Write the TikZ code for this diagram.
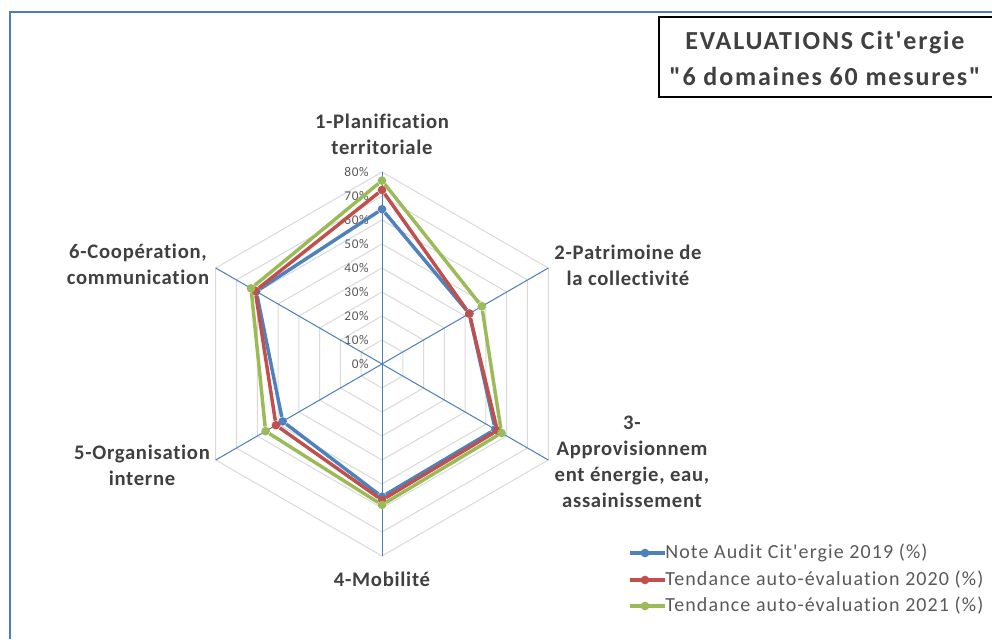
\documentclass[tikz,border=0pt]{standalone}
\usepackage{fontspec}
\setmainfont{Carlito}[Ligatures={TeXOff,CommonOff}]
\newfontfamily\etiquette{Carlito}[Ligatures={TeXOff,CommonOff}, LetterSpace=3.5]
\newfontfamily\titrefont{Carlito}[Ligatures={TeXOff,CommonOff}, LetterSpace=7]
\newfontfamily\legfont{Carlito}[Ligatures={TeXOff,CommonOff}, LetterSpace=5.5]
\newfontfamily\gradfont{Carlito}[Ligatures={TeXOff,CommonOff}, LetterSpace=5]
\definecolor{serieA}{HTML}{4F81BD}
\definecolor{serieB}{HTML}{C0504D}
\definecolor{serieC}{HTML}{9BBB59}
\definecolor{axe}{HTML}{4A7EBB}
\definecolor{grille}{HTML}{D9D9D9}
\definecolor{texte}{HTML}{404040}
\definecolor{legende}{HTML}{595959}
\tikzset{
  point/.style={circle, inner sep=0pt, minimum size=6.5pt},
  serie/.style={line width=2.6pt, line join=round},
  domaine/.style={align=center, text=texte, font=\etiquette\fontsize{15.5}{19.5}\selectfont\bfseries},
  graduation/.style={anchor=east, text=legende, font=\gradfont\fontsize{10}{10}\selectfont, inner sep=0pt}
}
\begin{document}
\begin{tikzpicture}[x=0.75pt,y=0.75pt]
  \useasboundingbox (-382,-275) rectangle (610,364);

  % cadre du graphique
  \draw[axe, line width=1.5pt] (-372,-275) -- (-372,352) -- (610,352);

  % grille et axes
  \foreach \k in {1,...,8}
    \draw[grille, line width=0.75pt] (90:\k*24) -- (30:\k*24) -- (-30:\k*24)
      -- (-90:\k*24) -- (-150:\k*24) -- (150:\k*24) -- cycle;
  \foreach \a in {90,30,-30,-90,-150,150}
    \draw[axe, line width=0.75pt] (0,0) -- (\a:192);
  \foreach \k in {0,...,8}{
    \pgfmathtruncatemacro\p{\k*10}
    \node[graduation] (t\k) at (-13,\k*24) {\p\%};
  }

  % Note Audit 2019
  \begin{scope}[every node/.style={point, fill=serieA}]
    \node (b1) at (90:64.5*2.4)   {};
    \node (b2) at (30:42*2.4)     {};
    \node (b3) at (-30:54.5*2.4)  {};
    \node (b4) at (-90:55.3*2.4)  {};
    \node (b5) at (-150:47.8*2.4) {};
    \node (b6) at (150:60.5*2.4)  {};
  \end{scope}
  \draw[serie, serieA] (b1) -- (b2) -- (b3) -- (b4) -- (b5) -- (b6) -- (b1);

  % auto-evaluation 2020
  \begin{scope}[every node/.style={point, fill=serieB}]
    \node (r1) at (90:72.5*2.4)   {};
    \node (r2) at (30:42*2.4)     {};
    \node (r3) at (-30:55.5*2.4)  {};
    \node (r4) at (-90:56.7*2.4)  {};
    \node (r5) at (-150:51*2.4)   {};
    \node (r6) at (150:61*2.4)    {};
  \end{scope}
  \draw[serie, serieB] (r1) -- (r2) -- (r3) -- (r4) -- (r5) -- (r6) -- (r1);

  % auto-evaluation 2021
  \begin{scope}[every node/.style={point, fill=serieC}]
    \node (g1) at (90:76.4*2.4)   {};
    \node (g2) at (30:48*2.4)     {};
    \node (g3) at (-30:57.5*2.4)  {};
    \node (g4) at (-90:58.7*2.4)  {};
    \node (g5) at (-150:56*2.4)   {};
    \node (g6) at (150:63*2.4)    {};
  \end{scope}
  \draw[serie, serieC] (g1) -- (g2) -- (g3) -- (g4) -- (g5) -- (g6) -- (g1);

  % domaines
  \begin{scope}[every node/.style={domaine}]
    \node (d1) at (0,229.5)    {1-Planification\\territoriale};
    \node (d2) at (246,99)     {2-Patrimoine de\\la collectivité};
    \node (d3) at (250,-98)    {3-\\Approvisionnem\\ent énergie, eau,\\assainissement};
    \node (d4) at (0,-215)     {4-Mobilité};
    \node (d5) at (-240,-101)  {5-Organisation\\interne};
    \node (d6) at (-244,100)   {6-Coopération,\\communication};
  \end{scope}

  % titre
  \draw[black, line width=1pt] (277,347) rectangle (620,267);
  \node[align=center, text=texte, font=\titrefont\fontsize{19.5}{27}\selectfont\bfseries]
    (titre) at (443,306) {EVALUATIONS Cit'ergie\\"6 domaines 60 mesures"};

  % legende
  \begin{scope}[every node/.style={anchor=west, inner sep=0pt, text=legende, font=\legfont\fontsize{15}{15}\selectfont}]
    \node (l1) at (283,-189) {Note Audit Cit'ergie 2019 (\%)};
    \node (l2) at (283,-216) {Tendance auto-évaluation 2020 (\%)};
    \node (l3) at (283,-242) {Tendance auto-évaluation 2021 (\%)};
  \end{scope}
  \coordinate (m1) at (248,-189);
  \coordinate (m2) at (248,-216);
  \coordinate (m3) at (248,-242);
  \draw[serieA, line width=2.6pt] (m1) -- (l1.west);
  \draw[serieB, line width=2.6pt] (m2) -- (l2.west);
  \draw[serieC, line width=2.6pt] (m3) -- (l3.west);
  \node[point, fill=serieA] (p1) at (263,-189) {};
  \node[point, fill=serieB] (p2) at (263,-216) {};
  \node[point, fill=serieC] (p3) at (263,-242) {};
\end{tikzpicture}
\end{document}
